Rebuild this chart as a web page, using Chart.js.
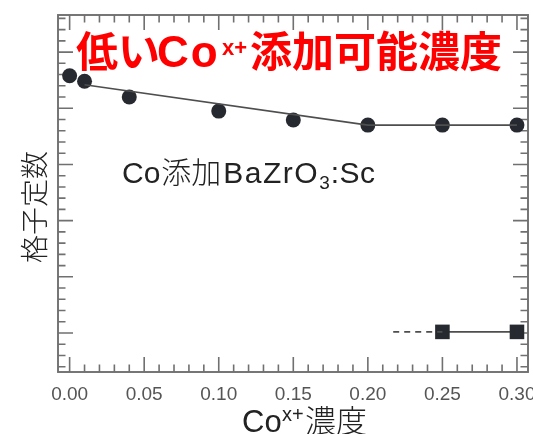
<!DOCTYPE html>
<html>
<head>
<meta charset="utf-8">
<script src="https://cdn.jsdelivr.net/npm/chart.js@4.4.0/dist/chart.umd.min.js"></script>
<style>
  html, body { margin: 0; padding: 0; background: #ffffff; }
  #wrap { width: 533px; height: 434px; }
</style>
</head>
<body>
<div id="wrap"><canvas id="c" width="533" height="434"></canvas></div>
<script>
// Co concentration (x) and lattice constant in relative units (y)
const coConcentration = [0.00, 0.01, 0.04, 0.10, 0.15, 0.20, 0.25, 0.30];
const latticeMain = [22.9, 22.4, 21.0, 19.75, 18.95, 18.5, 18.5, 18.5];
// guide line: linear decrease up to the solubility limit, then flat
const trendConcentration = [0.01, 0.20, 0.30];
const trendLattice = [22.1, 18.5, 18.5];
// second phase
const secondConcentration = [0.25, 0.30];
const latticeSecond = [0.1, 0.1];
const dashedConcentration = [0.217, 0.25];
const dashedLattice = [0.1, 0.1];
const xTickValues = [0.00, 0.05, 0.10, 0.15, 0.20, 0.25, 0.30];
const xTickLabels = ['0.00', '0.05', '0.10', '0.15', '0.20', '0.25', '0.30'];

const X_MIN = -0.0078, X_MAX = 0.3074;
const Y_MIN = -3.47, Y_MAX = 28.3;

const frameColor = '#707070';
const markColor = '#262930';
const lineColor = '#4e4e4e';
const CJK = '"Noto Sans CJK JP", sans-serif';
const LAT = '"Liberation Sans", Arial, sans-serif';

function pts(xs, ys) { return xs.map((x, i) => ({ x: x, y: ys[i] })); }

function setSpacing(ctx, ls) {
  if ('letterSpacing' in ctx) ctx.letterSpacing = (ls || 0) + 'px';
}

// draw text pieces; a piece with x is placed there, otherwise it follows the previous one
function drawParts(ctx, parts, x0, y) {
  ctx.textAlign = 'left';
  ctx.textBaseline = 'alphabetic';
  let cx = x0;
  parts.forEach(p => {
    ctx.font = p.font;
    setSpacing(ctx, p.ls);
    if (p.x !== undefined) cx = p.x;
    ctx.fillText(p.t, cx, y + (p.dy || 0));
    cx += ctx.measureText(p.t).width + (p.gap || 0);
  });
  setSpacing(ctx, 0);
}

const axesPlugin = {
  id: 'axesFrame',
  beforeDatasetsDraw(chart) {
    const { ctx, chartArea: a, scales: { x, y } } = chart;
    ctx.save();
    ctx.strokeStyle = frameColor;
    ctx.lineWidth = 1.6;
    ctx.beginPath();
    // inward x ticks: minor every 0.01, major every 0.05
    for (let i = 0; i <= 30; i++) {
      const px = x.getPixelForValue(i / 100);
      const len = i % 5 === 0 ? 15 : 7.5;
      ctx.moveTo(px, a.bottom); ctx.lineTo(px, a.bottom - len);
      ctx.moveTo(px, a.top); ctx.lineTo(px, a.top + len);
    }
    // inward y ticks: minor every unit, major every 5 units
    for (let v = -3; v <= 28; v++) {
      const py = y.getPixelForValue(v);
      const len = v % 5 === 0 ? 15 : 7.5;
      ctx.moveTo(a.left, py); ctx.lineTo(a.left + len, py);
      ctx.moveTo(a.right, py); ctx.lineTo(a.right - len, py);
    }
    ctx.stroke();
    ctx.lineWidth = 1.9;
    ctx.strokeRect(a.left, a.top, a.right - a.left, a.bottom - a.top);
    ctx.restore();
  },
  afterDraw(chart) {
    const { ctx, scales: { x } } = chart;
    ctx.save();
    // x tick labels
    ctx.fillStyle = '#555555';
    ctx.font = '19px ' + LAT;
    ctx.textAlign = 'center';
    ctx.textBaseline = 'middle';
    xTickValues.forEach((v, i) => ctx.fillText(xTickLabels[i], x.getPixelForValue(v), 395));

    // x axis title
    ctx.fillStyle = '#222222';
    drawParts(ctx, [
      { t: 'Co', font: '31px ' + LAT, x: 242 },
      { t: 'x+', font: '20px ' + LAT, x: 282, dy: -11 },
      { t: '濃度', font: '300 31px ' + CJK, x: 305 }
    ], 242, 432);

    // y axis title
    ctx.save();
    ctx.translate(34, 207);
    ctx.rotate(-Math.PI / 2);
    ctx.font = '300 28px ' + CJK;
    ctx.textAlign = 'center';
    ctx.textBaseline = 'middle';
    ctx.fillText('格子定数', 0, 0);
    ctx.restore();

    // sample label
    ctx.fillStyle = '#222222';
    drawParts(ctx, [
      { t: 'Co', font: '30px ' + LAT, gap: 1 },
      { t: '添加', font: '300 30px ' + CJK, gap: 2 },
      { t: 'BaZrO', font: '30px ' + LAT, ls: 1.5 },
      { t: '3', font: '19px ' + LAT, dy: 6, gap: 1 },
      { t: ':Sc', font: '30px ' + LAT, ls: 0.5 }
    ], 122, 183);

    // headline
    ctx.fillStyle = '#ff0000';
    drawParts(ctx, [
      { t: '低い', font: 'bold 42px ' + CJK, x: 76 },
      { t: 'Co', font: 'bold 44px ' + LAT, x: 157, ls: 2 },
      { t: 'x+', font: 'bold 22px ' + LAT, x: 222, dy: -12 },
      { t: '添加可能濃度', font: 'bold 42px ' + CJK, x: 250 }
    ], 76, 67);
    ctx.restore();
  }
};

new Chart(document.getElementById('c'), {
  type: 'line',
  data: {
    datasets: [
      {
        data: pts(trendConcentration, trendLattice),
        borderColor: lineColor,
        borderWidth: 1.6,
        pointRadius: 0,
        fill: false
      },
      {
        data: pts(dashedConcentration, dashedLattice),
        borderColor: lineColor,
        borderWidth: 1.6,
        borderDash: [6, 5],
        pointRadius: 0,
        fill: false
      },
      {
        data: pts(coConcentration, latticeMain),
        showLine: false,
        pointStyle: 'circle',
        pointRadius: 7.5,
        pointBackgroundColor: markColor,
        pointBorderColor: markColor,
        pointBorderWidth: 0
      },
      {
        data: pts(secondConcentration, latticeSecond),
        borderColor: lineColor,
        borderWidth: 1.6,
        pointStyle: 'rect',
        pointRadius: 10.3,
        pointBackgroundColor: markColor,
        pointBorderColor: markColor,
        pointBorderWidth: 0,
        fill: false
      }
    ]
  },
  options: {
    responsive: false,
    animation: false,
    devicePixelRatio: 1,
    layout: { autoPadding: false, padding: { left: 58, right: 5, top: 15, bottom: 62 } },
    plugins: { legend: { display: false }, tooltip: { enabled: false } },
    scales: {
      x: { type: 'linear', min: X_MIN, max: X_MAX, display: false },
      y: { type: 'linear', min: Y_MIN, max: Y_MAX, display: false }
    }
  },
  plugins: [axesPlugin]
});
</script>
</body>
</html>
